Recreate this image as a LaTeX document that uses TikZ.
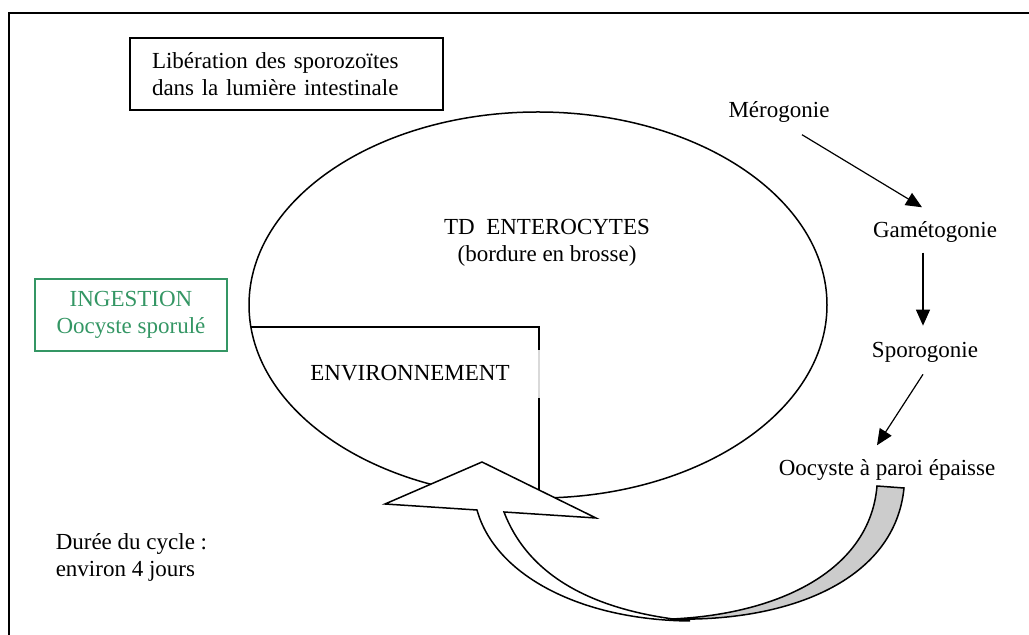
\documentclass[tikz,border=0pt]{standalone}
\usepackage{fontspec}
\setmainfont{Liberation Serif}
\usetikzlibrary{positioning,calc,arrows.meta}
\definecolor{ingest}{RGB}{52,150,100}

\begin{document}
\begin{tikzpicture}[x=0.5pt,y=-0.5pt,line width=0.75pt,
    every node/.style={font=\fontsize{11.5}{13.5}\selectfont,inner sep=0pt},
    flow/.style={-{Triangle[length=8pt,width=7pt]},line width=0.6pt}]
    \tikzset{labelbox/.style={draw,rectangle,text width=134.5pt,inner xsep=11pt,minimum height=36pt}}
    \useasboundingbox (0,0) rectangle (1029,635);
    % frame
    \draw[line width=1pt] (9,635) -- (9,13) -- (1029,13);
    % boxes
    \node[labelbox,align=left] (lib) at (286.5,74) {Libération des sporozoïtes\\dans la lumière intestinale};
    \node[draw=ingest,text=ingest,align=center,minimum width=96pt,minimum height=36pt] (ing) at (131,315) {INGESTION\\Oocyste sporulé};
    % intestine
    \draw (538,305) ellipse [x radius=144.5pt,y radius=96.5pt];
    \node[align=center] (ent) at (547,243) {TD\ \ ENTEROCYTES\\(bordure en brosse)};
    \draw (251,327) -- (539,327) -- (539,350);
    \draw[black!15] (539,350) -- (539,398);
    \draw (539,398) -- (539,500);
    \node (env) at (410,373) {ENVIRONNEMENT};
    % cycle
    \node (mero) at (779,112) {Mérogonie};
    \node (gam) at (935,232) {Gamétogonie};
    \node (spo) at (925,352) {Sporogonie};
    \node (ooc) at (887,470) {Oocyste à paroi épaisse};
    \draw[flow] ($(mero.south)+(23,11.5)$) -- ($(gam.north)+(-13,-13.5)$);
    \draw[flow] ($(gam.south)+(-12,9.5)$) -- ($(spo.north)+(-2,-15.5)$);
    \draw[flow] ($(spo.south)+(-2,11.5)$) -- ($(ooc.north)+(-10,-13.5)$);
    % return arrow
    \draw[fill=black!20] (904,488) -- (877,486)
        .. controls (870,570) and (780,614) .. (672,619)
        .. controls (790,622) and (895,580) .. (904,488) -- cycle;
    \draw[fill=white,line join=miter] (504,512) -- (596,518) -- (482,462) -- (385,504) -- (477,510)
        .. controls (495,575) and (580,620) .. (690,621)
        .. controls (600,612) and (530,580) .. (504,512) -- cycle;
    \node[align=left,anchor=west] (dur) at (55,557) {Durée du cycle :\\environ 4 jours};
\end{tikzpicture}
\end{document}
